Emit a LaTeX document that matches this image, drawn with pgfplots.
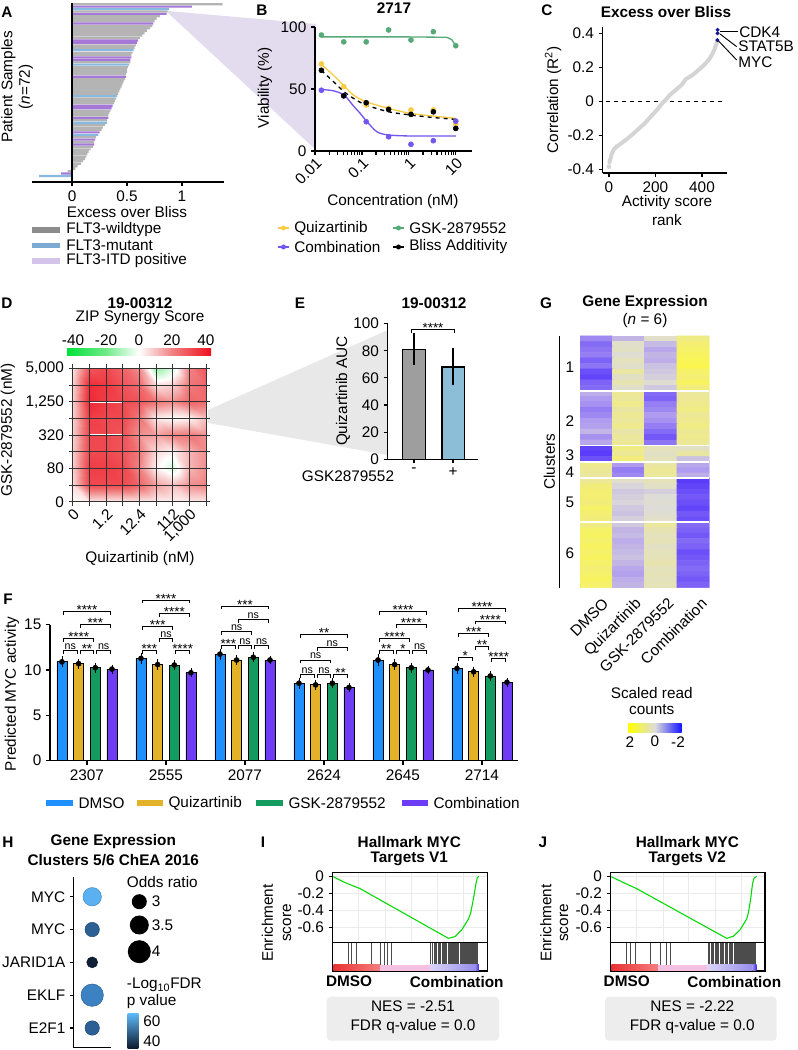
\documentclass[border=0pt]{standalone}
\usepackage{fontspec}
\setmainfont{Liberation Sans}
\usepackage{pgfplots}
\pgfplotsset{compat=1.18}
\newcommand\fs{\fontsize{11.5}{13}\selectfont}
\definecolor{cQ}{RGB}{250,204,70}
\definecolor{cG}{RGB}{85,170,120}
\definecolor{cC}{RGB}{115,85,240}
\definecolor{fD}{RGB}{30,144,255}
\definecolor{fQ}{RGB}{228,178,40}
\definecolor{fG}{RGB}{20,155,95}
\definecolor{fC}{RGB}{110,60,245}
\definecolor{aGray}{RGB}{180,180,180}
\definecolor{aBlue}{RGB}{135,185,225}
\definecolor{aPurp}{RGB}{165,120,215}
\definecolor{lGray}{RGB}{140,140,140}
\definecolor{lBlue}{RGB}{125,170,210}
\definecolor{lPurp}{RGB}{212,196,236}
\definecolor{wedgeP}{RGB}{227,220,238}
\definecolor{wedgeG}{RGB}{232,232,232}
\definecolor{eGray}{RGB}{158,158,158}
\definecolor{eBlue}{RGB}{140,190,215}
\definecolor{nesbg}{RGB}{237,237,237}
\definecolor{cdot}{RGB}{20,20,150}
\definecolor{cline}{RGB}{212,212,212}
\definecolor{zg1}{RGB}{0,225,60}
\definecolor{zg2}{RGB}{110,235,135}
\definecolor{zr1}{RGB}{240,130,130}
\definecolor{zr2}{RGB}{240,15,30}
\definecolor{gy}{RGB}{255,255,0}
\definecolor{gm}{RGB}{220,220,220}
\definecolor{gb}{RGB}{20,20,255}
\definecolor{fdrL}{RGB}{95,185,250}
\definecolor{fdrD}{RGB}{12,25,45}
\definecolor{sr1}{RGB}{232,50,50}
\definecolor{sr2}{RGB}{245,125,125}
\definecolor{spk}{RGB}{246,192,226}
\definecolor{slv1}{RGB}{218,212,246}
\definecolor{slv2}{RGB}{150,140,235}
\definecolor{sbl}{RGB}{60,40,225}
\pgfplotsset{
  colormap={zip}{rgb255=(0,225,60) rgb255=(110,235,135) rgb255=(255,255,255) rgb255=(240,130,130) rgb255=(240,15,30)},
  colormap={gexp}{rgb255=(90,60,250) rgb255=(175,155,240) rgb255=(222,220,215) rgb255=(236,232,150) rgb255=(255,250,60)},
  colormap={fdr}{rgb255=(12,25,45) rgb255=(55,120,185) rgb255=(95,185,250)},
  every axis/.append style={scale only axis, font=\fs, tick label style={font=\fs},
    /pgf/number format/assume math mode=true,
    axis line style={line width=0.9pt,-}, tick style={line width=0.9pt,black},
    x axis line style={-}, y axis line style={-},
    major tick length=3pt, tick align=outside, anchor=south west},
}
\tikzset{t/.style={font=\fs, inner sep=0pt}, tb/.style={font=\fs\bfseries, inner sep=0pt}}
% bracket macros (px coordinates, F panel)
\newcommand\bn[5]{%
 \draw[line width=0.6pt] ({87+79*#1-23.5+16.667*#2},{#4+3.3}) -- ({87+79*#1-23.5+16.667*#2},{#4}) -- ({87+79*#1-26.5+16.667*#3},{#4}) -- ({87+79*#1-26.5+16.667*#3},{#4+3.3});
 \node[font=\fontsize{8}{8}\selectfont, anchor=south, inner sep=0.6pt] at ({87+79*#1-25+16.667*(#2+#3)/2},{#4}) {#5};}
\newcommand\bs[5]{%
 \draw[line width=0.6pt] ({87+79*#1-23.5+16.667*#2},{#4+3.3}) -- ({87+79*#1-23.5+16.667*#2},{#4}) -- ({87+79*#1-26.5+16.667*#3},{#4}) -- ({87+79*#1-26.5+16.667*#3},{#4+3.3});
 \node[font=\fontsize{10}{10}\selectfont, anchor=south, inner sep=0.6pt, yshift=-3.2pt] at ({87+79*#1-25+16.667*(#2+#3)/2},{#4}) {#5};}

\begin{document}
\begin{tikzpicture}
\useasboundingbox (0,0) rectangle (598.5pt,787.5pt);

% ---------- background wedges
\begin{scope}[x=0.75pt,y=-0.75pt,shift={(0,787.5pt)}]
\fill[wedgeP] (168,11) -- (316,24) -- (316,150) -- (168,13) -- cycle;
\fill[wedgeG] (208,410) -- (387.7,330) -- (387.7,455) -- (208,423) -- cycle;
\end{scope}

% ---------- A
\begin{axis}[at={(24pt,651pt)}, width=144pt, height=134.25pt,
  xmin=-0.364, xmax=1.382, ymin=-1.5, ymax=72.5,
  axis x line*=bottom, axis y line=none, xtick={0,0.5,1}, xticklabels={0,0.5,1},
  xbar, bar width=1.6pt, bar shift=0pt, clip=false]
\addplot[draw=none, fill=aGray] coordinates {(1.37,72) (0.87,69) (0.80,67) (0.77,66) (0.75,65) (0.73,63) (0.71,62) (0.68,61) (0.66,60) (0.64,59) (0.62,58) (0.58,55) (0.57,54) (0.55,52) (0.54,51) (0.53,48) (0.51,46) (0.50,45) (0.50,44) (0.49,43) (0.48,41) (0.47,40) (0.46,39) (0.45,38) (0.44,37) (0.43,36) (0.42,35) (0.40,33) (0.39,32) (0.38,31) (0.35,28) (0.34,27) (0.33,26) (0.32,24) (0.30,22) (0.28,21) (0.27,20) (0.22,17) (0.20,15) (0.19,13) (0.17,12) (0.15,11) (0.14,10) (0.13,9) (0.12,8) (0.10,7) (0.08,6) (0.05,5) (0.03,4) (-0.04,3)};
\addplot[draw=none, fill=aPurp] coordinates {(1.09,71) (0.86,68) (0.74,64) (0.60,57) (0.59,56) (0.54,50) (0.53,49) (0.49,42) (0.37,30) (0.36,29) (0.33,25) (0.25,19) (0.21,16) (0.20,14) (-0.10,2)};
\addplot[draw=none, fill=aBlue] coordinates {(0.88,70) (0.56,53) (0.52,47) (0.41,34) (0.32,23) (0.24,18) (-0.30,1)};
\draw[line width=0.9pt] (axis cs:0,-1.5) -- (axis cs:0,72.5);
\end{axis}

% ---------- B
\begin{axis}[at={(236.25pt,674.25pt)}, width=117.75pt, height=93pt,
  xmode=log, xmin=0.01, xmax=22.2, ymin=0, ymax=100,
  axis x line*=bottom, axis y line*=left,
  xtick={0.01,0.1,1,10}, xticklabels={0.01,0.1,1,10}, ytick={0,50,100},
  xticklabel style={rotate=45, anchor=north east, inner sep=1pt}, clip=false]
\addplot[cG, line width=1pt] coordinates {(0.0136,92) (1,92) (6.43,91.7) (8.22,89.8) (9.2,87) (10,84.7)};
\addplot[cQ, line width=1pt, smooth] coordinates {(0.0136,70) (0.0249,61) (0.042,52.3) (0.0664,45) (0.1235,39.7) (0.375,34.3) (1.10,30.3) (3.29,28.2) (10,26.3)};
\addplot[black, line width=1pt, dashed, smooth] coordinates {(0.0136,65.1) (0.0249,55.8) (0.042,47.7) (0.0664,42.4) (0.1235,37) (0.375,31.6) (1.10,29) (3.29,27) (10,25.5)};
\addplot[cC, line width=1pt, smooth] coordinates {(0.0136,49.6) (0.0249,48.5) (0.042,45) (0.0664,36.2) (0.092,30.3) (0.1235,24.4) (0.2086,15.5) (0.375,12.9) (1.10,12.1) (10,12.1)};
\addplot[only marks, mark=*, mark size=1.9pt, color=cG] coordinates {(0.0137,93.5) (0.041,88) (0.1235,88) (0.37,97.6) (1.11,89.5) (3.33,96.2) (10,84.9)};
\addplot[only marks, mark=*, mark size=1.9pt, color=cQ] coordinates {(0.0137,70.2) (0.041,51.9) (0.1235,37.1) (0.37,34.4) (1.11,33.1) (3.33,33.1) (10,21.8)};
\addplot[only marks, mark=*, mark size=1.9pt, color=cC] coordinates {(0.0137,49) (0.041,44.5) (0.1235,23.6) (0.37,11.5) (1.11,5.4) (3.33,8.3) (10,24.1)};
\addplot[only marks, mark=*, mark size=1.9pt, color=black] coordinates {(0.0137,65.1) (0.041,44.5) (0.1235,38.9) (0.37,33.5) (1.11,29.5) (3.33,31.6) (10,18.2)};
\end{axis}

% ---------- C
\begin{axis}[at={(452pt,657.75pt)}, width=93pt, height=109.5pt,
  xmin=-27, xmax=506, ymin=-0.4217, ymax=0.437,
  axis x line*=bottom, axis y line*=left,
  xtick={0,200,400}, ytick={-0.4,-0.2,0,0.2,0.4}, yticklabels={-0.4,-0.2,0,0.2,0.4}, clip=false]
\addplot[black, dashed, line width=0.7pt] coordinates {(-12,0) (500,0)};
\addplot[cline, line width=3pt, line cap=round, line join=round] coordinates {(2,-0.36) (6,-0.34) (12,-0.31) (20,-0.285) (30,-0.27) (45,-0.255) (70,-0.23) (97,-0.2) (125,-0.165) (150,-0.135) (180,-0.09) (210,-0.045) (230,-0.01) (245,0.01) (260,0.035) (290,0.07) (315,0.1) (330,0.13) (360,0.155) (390,0.19) (410,0.215) (430,0.245) (445,0.28) (455,0.31) (465,0.35)};
\addplot[only marks, mark=*, mark size=1.5pt, color=cline] coordinates {(0,-0.385)};
\addplot[only marks, mark=*, mark size=1.3pt, color=cdot] coordinates {(466,0.36) (467,0.40) (467,0.42)};
\end{axis}

% ---------- D
\begin{axis}[at={(54.5pt,411.2pt)}, width=100pt, height=100pt,
  xmin=0, xmax=8, ymin=0, ymax=8, xtick={0,...,8}, ytick={0,...,8},
  xticklabels={0,,1.2,,12.4,,112,{1,000}}, yticklabels={0,,80,,320,,{1,250},,{5,000}},
  xticklabel style={rotate=45, anchor=north east, inner sep=1pt},
  grid=major, grid style={black!80, line width=0.5pt}, axis on top,
  axis line style={black!80, line width=0.5pt}, tick style={black!80, line width=0.5pt},
  colormap name=zip, point meta min=-40, point meta max=40]
\addplot[surf, shader=interp, mesh/cols=9, point meta=explicit] table[x=x, y=y, meta=z] {
x y z
0 0 0
1 0 3
2 0 3
3 0 3
4 0 3
5 0 2
6 0 2
7 0 3
8 0 3

0 1 6
1 1 30
2 1 30
3 1 30
4 1 25
5 1 15
6 1 10
7 1 18
8 1 20

0 2 8
1 2 32
2 2 32
3 2 30
4 2 20
5 2 2
6 2 -6
7 2 12
8 2 18

0 3 8
1 3 30
2 3 30
3 3 28
4 3 22
5 3 6
6 3 2
7 3 12
8 3 18

0 4 8
1 4 30
2 4 30
3 4 28
4 4 18
5 4 15
6 4 20
7 4 22
8 4 18

0 5 8
1 5 32
2 5 30
3 5 30
4 5 22
5 5 3
6 5 0
7 5 2
8 5 10

0 6 8
1 6 36
2 6 32
3 6 30
4 6 28
5 6 22
6 6 18
7 6 25
8 6 24

0 7 8
1 7 35
2 7 33
3 7 28
4 7 24
5 7 5
6 7 8
7 7 22
8 7 25

0 8 5
1 8 28
2 8 30
3 8 25
4 8 18
5 8 -15
6 8 -5
7 8 20
8 8 28
};
\draw[white, line width=1.2pt] (axis cs:1,4) rectangle (axis cs:3,6);
\end{axis}

% ---------- E
\begin{axis}[at={(290.8pt,443pt)}, width=67.7pt, height=101.8pt,
  xmin=-0.674, xmax=1.64, ymin=0, ymax=100,
  axis x line*=bottom, axis y line*=left, xtick={0,1}, xticklabels={-,+},
  ytick={0,20,40,60,80,100}, ybar, bar width=16.7pt, bar shift=0pt, clip=false]
\addplot[fill=eGray, draw=black, line width=0.9pt, error bars/.cd, y dir=both, y explicit,
  error bar style={line width=0.9pt, black}, error mark options={line width=0.9pt, black, mark size=5.5pt}]
  coordinates {(0,81) += (0,7) -= (0,6)};
\addplot[fill=eBlue, draw=black, line width=0.9pt, error bars/.cd, y dir=both, y explicit,
  error bar style={line width=0.9pt, black}, error mark options={line width=0.9pt, black, mark size=5.5pt}]
  coordinates {(1,68) += (0,8.8) -= (0,7.6)};
\end{axis}

% ---------- F
\begin{axis}[at={(37.5pt,217pt)}, width=351pt, height=102pt,
  xmin=-0.468, xmax=5.456, ymin=0, ymax=15,
  axis x line*=bottom, axis y line*=left, xtick={0,...,5},
  xticklabels={2307,2555,2077,2624,2645,2714}, ytick={0,5,10,15},
  ybar, bar width=7.5pt, clip=false]
\addplot[fill=fD, draw=black, line width=0.6pt, bar shift=-18.75pt, error bars/.cd, y dir=both, y fixed=0.25,
  error bar style={black, line width=0.7pt}, error mark options={black, line width=0.7pt, mark size=2.5pt}]
  coordinates {(0,10.9) (1,11.28) (2,11.75) (3,8.54) (4,11.1) (5,10.18)};
\addplot[fill=fQ, draw=black, line width=0.6pt, bar shift=-6.25pt, error bars/.cd, y dir=both, y fixed=0.2,
  error bar style={black, line width=0.7pt}, error mark options={black, line width=0.7pt, mark size=2.5pt}]
  coordinates {(0,10.7) (1,10.6) (2,11.1) (3,8.36) (4,10.6) (5,9.8)};
\addplot[fill=fG, draw=black, line width=0.6pt, bar shift=6.25pt, error bars/.cd, y dir=both, y fixed=0.2,
  error bar style={black, line width=0.7pt}, error mark options={black, line width=0.7pt, mark size=2.5pt}]
  coordinates {(0,10.25) (1,10.55) (2,11.4) (3,8.54) (4,10.25) (5,9.34)};
\addplot[fill=fC, draw=black, line width=0.6pt, bar shift=18.75pt, error bars/.cd, y dir=both, y fixed=0.12,
  error bar style={black, line width=0.7pt}, error mark options={black, line width=0.7pt, mark size=2.5pt}]
  coordinates {(0,10.1) (1,9.7) (2,11.1) (3,8.07) (4,10.0) (5,8.65)};
\addplot[only marks, mark=*, mark size=1.9pt, black, bar shift=0pt] coordinates {
 (-0.3165,10.9) (0.6835,11.28) (1.6835,11.75) (2.6835,8.54) (3.6835,11.1) (4.6835,10.18)
 (-0.1055,10.7) (0.8945,10.6) (1.8945,11.1) (2.8945,8.36) (3.8945,10.6) (4.8945,9.8)
 (0.1055,10.25) (1.1055,10.55) (2.1055,11.4) (3.1055,8.54) (4.1055,10.25) (5.1055,9.34)
 (0.3165,10.1) (1.3165,9.7) (2.3165,11.1) (3.3165,8.07) (4.3165,10.0) (5.3165,8.65)};
\end{axis}

% ---------- G
\begin{axis}[at={(435pt,346.7pt)}, width=97pt, height=188.8pt,
  xmin=-0.5, xmax=3.5, ymin=-0.5, ymax=45.5, y dir=reverse, hide axis,
  colormap name=gexp, point meta min=-2, point meta max=2]
\addplot[matrix plot*, mesh/cols=4, point meta=explicit] table[x=x, y=y, meta=c] {
x y c
0 0 -1.2
1 0 -0.6
2 0 0.2
3 0 1.2
0 1 -1.5
1 1 0.2
2 1 -0.5
3 1 1.4
0 2 -1.4
1 2 0.3
2 2 -0.8
3 2 1.5
0 3 -1.3
1 3 0.1
2 3 -0.6
3 3 1.6
0 4 -1.6
1 4 0.4
2 4 -0.7
3 4 1.7
0 5 -1.4
1 5 0.2
2 5 -0.4
3 5 1.8
0 6 -1.8
1 6 0.8
2 6 -0.3
3 6 1.5
0 7 -1.9
1 7 0.3
2 7 -0.2
3 7 1.4
0 8 -1.6
1 8 0.6
2 8 0.1
3 8 1.6
0 9 -1.5
1 9 0.2
2 9 -0.3
3 9 1.3
0 10 -0.7
1 10 1.0
2 10 -1.5
3 10 0.9
0 11 -1.0
1 11 0.9
2 11 -1.6
3 11 1.0
0 12 -1.1
1 12 1.1
2 12 -1.3
3 12 1.1
0 13 -1.3
1 13 0.8
2 13 -1.2
3 13 1.2
0 14 -1.2
1 14 1.0
2 14 -1.0
3 14 1.0
0 15 -1.0
1 15 0.9
2 15 -1.1
3 15 1.1
0 16 -0.9
1 16 1.1
2 16 -1.3
3 16 1.2
0 17 -0.6
1 17 0.7
2 17 -1.5
3 17 1.0
0 18 -1.1
1 18 0.9
2 18 -1.7
3 18 1.1
0 19 -0.8
1 19 1.0
2 19 -1.4
3 19 1.0
0 20 -1.9
1 20 1.2
2 20 0.5
3 20 0.3
0 21 -2.0
1 21 1.0
2 21 0.3
3 21 0.8
0 22 -1.8
1 22 1.3
2 22 0.4
3 22 -0.4
0 23 1.1
1 23 -1.0
2 23 0.8
3 23 -0.8
0 24 1.0
1 24 -1.3
2 24 1.0
3 24 -1.0
0 25 0.9
1 25 -1.2
2 25 0.9
3 25 -0.7
0 26 1.0
1 26 0.2
2 26 0.5
3 26 -2.0
0 27 1.3
1 27 -0.1
2 27 0.3
3 27 -1.9
0 28 1.4
1 28 -0.3
2 28 -0.2
3 28 -1.8
0 29 1.4
1 29 -0.2
2 29 0.0
3 29 -1.7
0 30 1.3
1 30 -0.1
2 30 0.1
3 30 -1.8
0 31 1.5
1 31 -0.3
2 31 0.0
3 31 -1.9
0 32 1.4
1 32 -0.4
2 32 0.1
3 32 -1.7
0 33 1.3
1 33 -0.2
2 33 0.2
3 33 -1.8
0 34 1.2
1 34 -0.3
2 34 0.9
3 34 -1.5
0 35 1.5
1 35 -0.6
2 35 0.6
3 35 -1.6
0 36 1.6
1 36 -0.5
2 36 0.4
3 36 -1.7
0 37 1.5
1 37 -0.7
2 37 0.5
3 37 -1.5
0 38 1.6
1 38 -0.6
2 38 0.3
3 38 -1.6
0 39 1.5
1 39 -0.5
2 39 0.4
3 39 -1.8
0 40 1.6
1 40 -0.4
2 40 0.5
3 40 -1.7
0 41 1.5
1 41 -0.6
2 41 0.6
3 41 -1.6
0 42 1.4
1 42 -0.8
2 42 0.4
3 42 -1.5
0 43 1.5
1 43 -0.9
2 43 0.5
3 43 -1.6
0 44 1.6
1 44 -0.7
2 44 0.4
3 44 -1.7
0 45 1.5
1 45 -0.6
2 45 0.5
3 45 -1.6
};
\draw[white, line width=1.2pt] (axis cs:-0.5,9.5) -- (axis cs:3.5,9.5);
\draw[white, line width=1.2pt] (axis cs:-0.5,19.5) -- (axis cs:3.5,19.5);
\draw[white, line width=1.2pt] (axis cs:-0.5,22.5) -- (axis cs:3.5,22.5);
\draw[white, line width=1.2pt] (axis cs:-0.5,25.5) -- (axis cs:3.5,25.5);
\draw[white, line width=1.2pt] (axis cs:-0.5,33.5) -- (axis cs:3.5,33.5);
\end{axis}

% ---------- H
\begin{axis}[at={(55pt,1.725pt)}, width=28.3pt, height=128.25pt,
  xmin=-0.5, xmax=0.5, ymin=0.4, ymax=5.61,
  axis x line*=bottom, axis y line*=left, xtick=\empty, ytick={1,2,3,4,5},
  yticklabels={E2F1,EKLF,JARID1A,MYC,MYC}, major tick length=2.5pt,
  colormap name=fdr, point meta min=35, point meta max=65, clip=false]
\addplot[scatter, only marks, mark=*, point meta=explicit,
  visualization depends on={\thisrow{r} \as \rr},
  scatter/@pre marker code/.append style={/tikz/mark size=\rr}]
  table[x=x, y=y, meta=c] {
x y c r
0 5 63 6.9
0 4 46 5.4
0 3 36 4.1
0 2 52 8.4
0 1 46 5.4
};
\end{axis}

% ---------- I
\begin{axis}[at={(249.5pt,80.5pt)}, width=116pt, height=52.8pt,
  xmin=0, xmax=1, ymin=-0.776, ymax=0.052, axis line style={line width=1pt},
  xtick={0.166,0.338,0.506,0.677,0.845}, xticklabels={}, x tick style={draw=none},
  ytick={-0.6,-0.4,-0.2,0}, yticklabels={-0.6,-0.4,-0.2,0}, ytick pos=left,
  grid=major, grid style={black!8, line width=0.4pt}]
\addplot[green!85!black, line width=0.8pt] coordinates {(0.004,0) (0.09,-0.078) (0.177,-0.14) (0.748,-0.725) (0.791,-0.705) (0.834,-0.627) (0.877,-0.50) (0.892,-0.43) (0.909,-0.27) (0.927,-0.078) (0.935,-0.01) (0.946,0.005)};
\end{axis}
\begin{axis}[at={(249.5pt,59.25pt)}, width=116pt, height=21.2pt,
  xmin=0, xmax=1, ymin=-0.27, ymax=1, axis line style={line width=1pt}, xtick=\empty, ytick=\empty]
\addplot[ycomb, black!70, line width=0.4pt, no marks] coordinates {(0.101,1) (0.123,1) (0.155,1) (0.252,1) (0.306,1) (0.332,1) (0.353,1) (0.381,1) (0.634,1) (0.647,1) (0.655,1) (0.664,1) (0.672,1) (0.681,1) (0.690,1) (0.698,1) (0.707,1) (0.716,1) (0.722,1) (0.731,1) (0.737,1) (0.746,1) (0.752,1) (0.759,1) (0.767,1) (0.774,1) (0.780,1) (0.787,1) (0.795,1) (0.802,1) (0.808,1) (0.815,1) (0.823,1) (0.830,1) (0.836,1) (0.843,1) (0.849,1) (0.853,1) (0.856,1) (0.862,1) (0.866,1) (0.869,1) (0.875,1) (0.878,1) (0.881,1) (0.888,1) (0.891,1) (0.894,1) (0.901,1) (0.904,1) (0.907,1) (0.914,1) (0.917,1) (0.920,1) (0.924,1) (0.927,1) (0.930,1) (0.935,1)};
\shade[left color=sr1, right color=sr2] (axis cs:0.004,-0.27) rectangle (axis cs:0.306,0);
\fill[spk] (axis cs:0.306,-0.27) rectangle (axis cs:0.629,0);
\shade[left color=slv1, right color=slv2] (axis cs:0.629,-0.27) rectangle (axis cs:0.92,0);
\shade[left color=slv2, right color=sbl] (axis cs:0.92,-0.27) rectangle (axis cs:0.946,0);
\end{axis}

% ---------- J
\begin{axis}[at={(458pt,80.5pt)}, width=115.7pt, height=52.8pt,
  xmin=0, xmax=1, ymin=-0.776, ymax=0.052, axis line style={line width=1pt},
  xtick={0.166,0.338,0.506,0.677,0.845}, xticklabels={}, x tick style={draw=none},
  ytick={-0.6,-0.4,-0.2,0}, yticklabels={-0.6,-0.4,-0.2,0}, ytick pos=left,
  grid=major, grid style={black!8, line width=0.4pt}]
\addplot[green!85!black, line width=0.8pt] coordinates {(0.004,0) (0.093,-0.078) (0.168,-0.14) (0.752,-0.725) (0.795,-0.70) (0.838,-0.627) (0.881,-0.50) (0.892,-0.43) (0.907,-0.27) (0.920,-0.078) (0.929,-0.02) (0.946,0.005)};
\end{axis}
\begin{axis}[at={(458pt,59.25pt)}, width=115.7pt, height=21.2pt,
  xmin=0, xmax=1, ymin=-0.27, ymax=1, axis line style={line width=1pt}, xtick=\empty, ytick=\empty]
\addplot[ycomb, black!70, line width=0.4pt, no marks] coordinates {(0.104,1) (0.125,1) (0.158,1) (0.255,1) (0.320,1) (0.363,1) (0.384,1) (0.633,1) (0.642,1) (0.650,1) (0.658,1) (0.666,1) (0.675,1) (0.683,1) (0.692,1) (0.700,1) (0.709,1) (0.717,1) (0.725,1) (0.733,1) (0.742,1) (0.750,1) (0.758,1) (0.766,1) (0.775,1) (0.783,1) (0.791,1) (0.798,1) (0.806,1) (0.813,1) (0.820,1) (0.827,1) (0.834,1) (0.840,1) (0.846,1) (0.852,1) (0.858,1) (0.864,1) (0.870,1) (0.876,1) (0.882,1) (0.887,1) (0.892,1) (0.897,1) (0.902,1) (0.907,1) (0.912,1) (0.917,1) (0.922,1) (0.927,1) (0.931,1) (0.935,1)};
\shade[left color=sr1, right color=sr2] (axis cs:0.004,-0.27) rectangle (axis cs:0.306,0);
\fill[spk] (axis cs:0.306,-0.27) rectangle (axis cs:0.629,0);
\shade[left color=slv1, right color=slv2] (axis cs:0.629,-0.27) rectangle (axis cs:0.92,0);
\shade[left color=slv2, right color=sbl] (axis cs:0.92,-0.27) rectangle (axis cs:0.946,0);
\end{axis}

% vertical shading for H colorbar (absolute coords)
\shade[top color=fdrL, bottom color=fdrD] (95.8pt,1.3pt) rectangle (103.7pt,27.5pt);

% ---------- overlay text & legends (px coordinates)
\begin{scope}[x=0.75pt,y=-0.75pt,shift={(0,787.5pt)}]
% panel letters
\node[tb] at (7,12) {A};
\node[tb] at (262,10) {B};
\node[tb] at (547,10) {C};
\node[tb] at (7,303) {D};
\node[tb] at (300,303) {E};
\node[tb] at (546,303) {G};
\node[tb] at (8,599) {F};
\node[tb] at (8,842) {H};
\node[tb] at (263,842) {I};
\node[tb] at (543,842) {J};
% A
\node[t, rotate=90] at (8.5,87) {Patient Samples};
\node[t, rotate=90] at (26,87) {(\textit{n}=72)};
\node[t] at (127,212) {Excess over Bliss};
\fill[lGray] (32,227.5) rectangle (60,233);
\fill[lBlue] (32,243) rectangle (60,248.5);
\fill[lPurp] (32,258.5) rectangle (60,264);
\node[t, anchor=west] at (66,230) {FLT3-wildtype};
\node[t, anchor=west] at (66,245.5) {FLT3-mutant};
\node[t, anchor=west] at (66,261) {FLT3-ITD positive};
% B
\node[tb] at (394,8) {2717};
\node[t, rotate=90] at (265,88) {Viability (\%)};
\node[t] at (393,202) {Concentration (nM)};
\draw[cQ, line width=1pt] (278,228) -- (289,228); \fill[cQ] (283.5,228) circle (2.5);
\node[t, anchor=west] at (294,228) {Quizartinib};
\draw[cG, line width=1pt] (393,228) -- (404,228); \fill[cG] (398.5,228) circle (2.5);
\node[t, anchor=west] at (409,228) {GSK-2879552};
\draw[cC, line width=1pt] (278,247) -- (289,247); \fill[cC] (283.5,247) circle (2.5);
\node[t, anchor=west] at (294,247) {Combination};
\draw[black, line width=1pt] (393,247) -- (404,247); \fill[black] (398.5,247) circle (2.5);
\node[t, anchor=west] at (409,247) {Bliss Additivity};
% C
\node[tb] at (666,12) {Excess over Bliss};
\node[t, rotate=90] at (553,100) {Correlation (R\textsuperscript{2})};
\node[t] at (667,203) {Activity score};
\node[t] at (667,220) {rank};
\draw[line width=0.7pt] (720,31.7) -- (738,31.7);
\draw[line width=0.7pt] (720,34) -- (736.7,46.7);
\draw[line width=0.7pt] (718.3,40.7) -- (736.7,60);
\node[t, anchor=west] at (739,32) {CDK4};
\node[t, anchor=west] at (738,46) {STAT5B};
\node[t, anchor=west] at (738,62) {MYC};
% D
\node[tb] at (140,303) {19-00312};
\node[t] at (140,318) {ZIP Synergy Score};
\shade[left color=zg1, right color=zg2] (67,348.3) rectangle (106,355.7);
\shade[left color=zg2, right color=white] (106,348.3) rectangle (139,355.7);
\shade[left color=white, right color=zr1] (139,348.3) rectangle (172,355.7);
\shade[left color=zr1, right color=zr2] (172,348.3) rectangle (211,355.7);
\node[t] at (73,340) {-40};
\node[t] at (106,340) {-20};
\node[t] at (139,340) {0};
\node[t] at (172,340) {20};
\node[t] at (206,340) {40};
\node[t, rotate=90] at (8,430) {GSK-2879552 (nM)};
\node[t] at (140,559) {Quizartinib (nM)};
% E
\node[tb] at (434,303) {19-00312};
\node[t, rotate=90] at (343,391) {Quizartinib AUC};
\node[t] at (348,476.7) {GSK2879552};
\draw[line width=0.6pt] (411.7,333.5) -- (411.7,329) -- (454.3,329) -- (454.3,333.5);
\node[font=\fontsize{10}{10}\selectfont, anchor=south, inner sep=0.6pt, yshift=-3.2pt] at (433,329) {****};
% G
\node[tb] at (645,303) {Gene Expression};
\node[t] at (645,321) {(\textit{n} = 6)};
\draw[line width=0.9pt] (559.3,336) -- (559.3,587.7);
\node[t, rotate=90] at (549.3,461.7) {Clusters};
\node[t] at (570,367.7) {1};
\node[t] at (570,421) {2};
\node[t] at (570,455.7) {3};
\node[t] at (570,472.7) {4};
\node[t] at (570,502.7) {5};
\node[t] at (570,553.3) {6};
\node[t, rotate=45, anchor=north east] at (601.7,596.7) {DMSO};
\node[t, rotate=45, anchor=north east] at (634,596.7) {Quizartinib};
\node[t, rotate=45, anchor=north east] at (667,596.7) {GSK-2879552};
\node[t, rotate=45, anchor=north east] at (700,596.7) {Combination};
\node[t] at (651.7,693.3) {Scaled read};
\node[t] at (651.7,710) {counts};
\shade[left color=gy, right color=gm] (628.3,723.3) rectangle (655,732.7);
\shade[left color=gm, right color=gb] (655,723.3) rectangle (681.7,732.7);
\node[t] at (630,741.7) {2};
\node[t] at (655,741.7) {0};
\node[t] at (678,741.7) {-2};
% F
\node[t, rotate=90] at (12,694) {Predicted MYC activity};
\fill[fD] (45.7,800.5) rectangle (72.7,806);
\node[t, anchor=west] at (78.3,803.3) {DMSO};
\fill[fQ] (136.7,800.5) rectangle (163.3,806);
\node[t, anchor=west] at (168.3,803.3) {Quizartinib};
\fill[fG] (256,800.5) rectangle (282.7,806);
\node[t, anchor=west] at (288.3,803.3) {GSK-2879552};
\fill[fC] (401.7,800.5) rectangle (427.7,806);
\node[t, anchor=west] at (433.3,803.3) {Combination};
% brackets
\bn{0}{0}{1}{650.7}{ns} \bs{0}{1}{2}{650.7}{**} \bn{0}{2}{3}{650.7}{ns}
\bs{0}{0}{2}{638.3}{****} \bs{0}{1}{3}{624.3}{***} \bs{0}{0}{3}{611.7}{****}
\bs{1}{0}{1}{650.7}{***} \bs{1}{2}{3}{650.7}{****} \bn{1}{1}{2}{638.3}{ns}
\bs{1}{0}{2}{626.7}{***} \bs{1}{1}{3}{613.3}{****} \bs{1}{0}{3}{600}{****}
\bs{2}{0}{1}{645.7}{***} \bn{2}{1}{2}{645.7}{ns} \bn{2}{2}{3}{645.7}{ns}
\bn{2}{0}{2}{631.7}{ns} \bn{2}{1}{3}{619.3}{ns} \bs{2}{0}{3}{606}{***}
\bn{3}{0}{1}{674.3}{ns} \bn{3}{1}{2}{674.3}{ns} \bs{3}{2}{3}{674.3}{**}
\bn{3}{0}{2}{660}{ns} \bn{3}{1}{3}{647.7}{ns} \bs{3}{0}{3}{634.3}{**}
\bs{4}{0}{1}{650.7}{**} \bs{4}{1}{2}{650.7}{*} \bn{4}{2}{3}{650.7}{ns}
\bs{4}{0}{2}{638.3}{****} \bs{4}{1}{3}{624.3}{****} \bs{4}{0}{3}{611.7}{****}
\bs{5}{0}{1}{657.3}{*} \bs{5}{1}{2}{646.7}{**} \bs{5}{2}{3}{658.3}{****}
\bs{5}{0}{2}{633.3}{***} \bs{5}{1}{3}{621}{****} \bs{5}{0}{3}{608.3}{****}
% H
\node[tb] at (113.3,842) {Gene Expression};
\node[tb] at (113.3,860) {Clusters 5/6 ChEA 2016};
\node[t, anchor=west] at (126.7,881.7) {Odds ratio};
\fill[black] (139.3,901.7) circle (7.5);
\fill[black] (139.3,925) circle (9.5);
\fill[black] (139.3,951.7) circle (11.5);
\node[t, anchor=west] at (151.5,901.7) {3};
\node[t, anchor=west] at (151.5,925) {3.5};
\node[t, anchor=west] at (151.5,951.7) {4};
\node[t, anchor=west] at (126.7,985) {-Log\textsubscript{10}FDR};
\node[t, anchor=west] at (126.7,1001.7) {p value};
\node[t, anchor=west] at (143,1021.7) {60};
\node[t, anchor=west] at (143,1041.7) {40};
% I
\node[tb] at (409.3,842) {Hallmark MYC};
\node[tb] at (409.3,859) {Targets V1};
\node[t, rotate=90] at (267.5,923) {Enrichment};
\node[t, rotate=90] at (287,923) {score};
\node[tb] at (349,981.7) {DMSO};
\node[tb] at (456.7,981.7) {Combination};
\fill[nesbg, rounded corners=3pt] (326.7,996.7) rectangle (499,1040.7);
\node[t] at (413,1006.7) {NES = -2.51};
\node[t] at (413,1026.7) {FDR q-value = 0.0};
% J
\node[tb] at (687.3,842) {Hallmark MYC};
\node[tb] at (687.3,859) {Targets V2};
\node[t, rotate=90] at (546,923) {Enrichment};
\node[t, rotate=90] at (564,923) {score};
\node[tb] at (626.7,981.7) {DMSO};
\node[tb] at (734.3,981.7) {Combination};
\fill[nesbg, rounded corners=3pt] (605,996.7) rectangle (776.7,1040.7);
\node[t] at (692.3,1006.7) {NES = -2.22};
\node[t] at (692.3,1026.7) {FDR q-value = 0.0};
\end{scope}
\end{tikzpicture}
\end{document}
